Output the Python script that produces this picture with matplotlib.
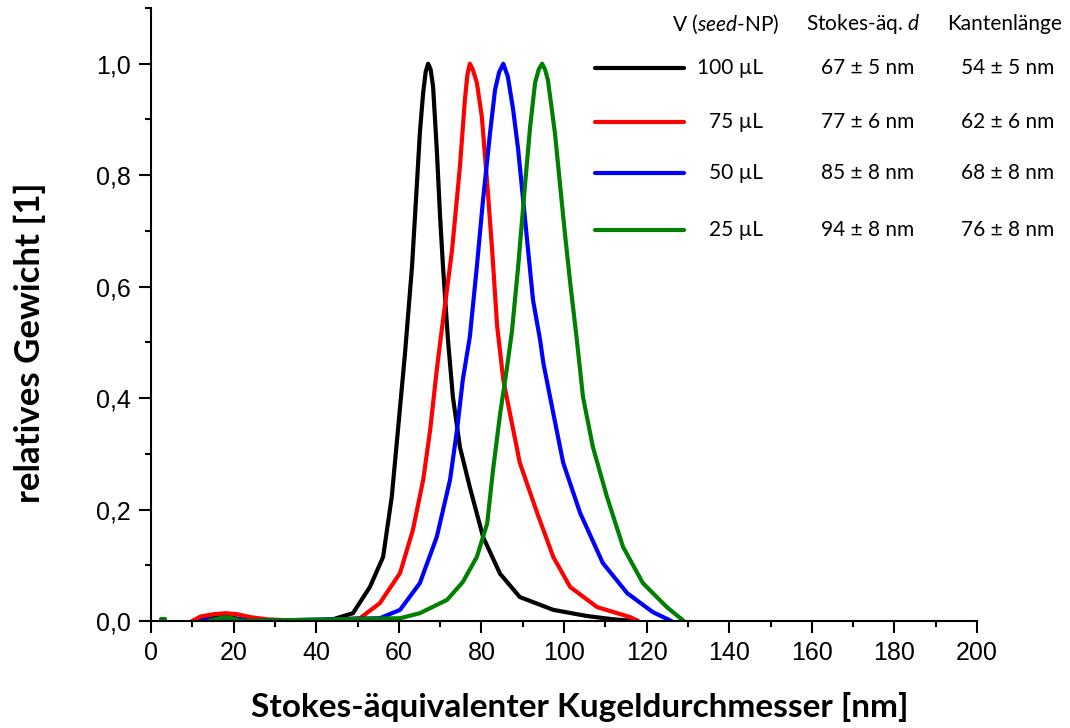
import numpy as np
import matplotlib
matplotlib.use("Agg")
import matplotlib.pyplot as plt
from matplotlib.ticker import MultipleLocator, FixedLocator

plt.rcParams["mathtext.fontset"] = "custom"
plt.rcParams["mathtext.rm"] = "Lato"
plt.rcParams["mathtext.it"] = "Lato:italic"

# Werte (x in nm, y relatives Gewicht)
x_100 = [10, 14, 18, 22, 26, 40, 44, 48.9, 53, 56.2, 58.3, 59.8, 61.5, 63.2, 64.4, 65.1, 65.9,
         66.5, 67.1, 67.7, 68.3, 69.2, 70.0, 70.7, 71.9, 73.1, 74.8, 77.2, 80.4, 84.5, 89.3, 97.4,
         105.5, 112, 117]
y_100 = [0, 0.004, 0.008, 0.003, 0, 0, 0.003, 0.014, 0.061, 0.115, 0.223, 0.343, 0.48, 0.636,
         0.786, 0.876, 0.948, 0.985, 1.0, 0.99, 0.959, 0.846, 0.725, 0.636, 0.505, 0.402, 0.312,
         0.24, 0.151, 0.085, 0.043, 0.020, 0.009, 0.003, 0]

x_75 = [10, 12, 15, 18, 21, 24, 28, 34, 40, 50.6, 55.4, 60.3, 63.4, 65.9, 67.6, 69.2, 70.0, 72.9,
        74.8, 76.0, 76.6, 77.2, 77.9, 78.9, 80.1, 81.4, 82.6, 83.8, 85.3, 86.9, 89.3, 93.5, 97.4,
        101.5, 108, 116, 118]
y_75 = [0, 0.008, 0.012, 0.014, 0.012, 0.007, 0.003, 0.001, 0, 0.005, 0.032, 0.086, 0.163, 0.253,
        0.343, 0.451, 0.499, 0.666, 0.815, 0.935, 0.98, 1.0, 0.99, 0.966, 0.905, 0.786, 0.666,
        0.53, 0.433, 0.373, 0.284, 0.194, 0.115, 0.061, 0.025, 0.007, 0]

x_50 = [12, 15, 18, 21, 24, 55.4, 60.3, 65.1, 69.2, 72.4, 74.1, 75.5, 77.2, 78.9, 80.4, 82.1,
        83.3, 84.3, 85.3, 86.4, 87.7, 88.9, 90.1, 91.3, 92.5, 94.2, 95.0, 97.4, 99.8, 103.9,
        109.4, 115.3, 121.5, 126]
y_50 = [0, 0.003, 0.006, 0.003, 0, 0.005, 0.02, 0.068, 0.151, 0.253, 0.343, 0.433, 0.51, 0.636,
        0.756, 0.876, 0.953, 0.985, 1.0, 0.977, 0.917, 0.846, 0.756, 0.666, 0.576, 0.505, 0.463,
        0.373, 0.284, 0.194, 0.104, 0.05, 0.016, 0]

x_25 = [14, 16, 18, 20, 22, 60.3, 65.1, 71.7, 75.5, 78.9, 81.4, 82.8, 84.5, 86.2, 87.4, 88.9,
        90.6, 91.8, 93.0, 93.9, 94.7, 95.4, 96.1, 97.8, 99.0, 100.2, 101.5, 103.1, 104.6, 107.0,
        110.4, 114.3, 119.1, 124.9, 129]
y_25 = [0, 0.004, 0.007, 0.004, 0, 0.005, 0.014, 0.038, 0.07, 0.115, 0.175, 0.27, 0.37, 0.455,
        0.52, 0.636, 0.786, 0.887, 0.966, 0.99, 1.0, 0.99, 0.971, 0.876, 0.786, 0.697, 0.607,
        0.505, 0.402, 0.312, 0.223, 0.133, 0.068, 0.025, 0]

volumes = ["100 µL", "75 µL", "50 µL", "25 µL"]
stokes_d = ["67 ± 5 nm", "77 ± 6 nm", "85 ± 8 nm", "94 ± 8 nm"]
kanten = ["54 ± 5 nm", "62 ± 6 nm", "68 ± 8 nm", "76 ± 8 nm"]
colors = ["black", "red", "blue", "green"]

x_ticks = [0, 20, 40, 60, 80, 100, 120, 140, 160, 180, 200]
y_ticks = [0.0, 0.2, 0.4, 0.6, 0.8, 1.0]
y_ticklabels = ["0,0", "0,2", "0,4", "0,6", "0,8", "1,0"]

W, H = 1070, 728
fig = plt.figure(figsize=(W / 100, H / 100), dpi=100)
ax = fig.add_axes([151 / W, 1 - 621 / H, (977 - 151) / W, (621 - 8) / H])

series = [(x_100, y_100), (x_75, y_75), (x_50, y_50), (x_25, y_25)]
for (xs, ys), c in zip(series, colors):
    ax.plot(xs, ys, color=c, lw=3.0, solid_capstyle="round", solid_joinstyle="round")
# kleiner gruener Punkt bei x ~ 3
ax.plot([2.5, 3.5], [0.004, 0.004], color="green", lw=3.0, solid_capstyle="round")

ax.set_xlim(0, 200)
ax.set_ylim(0, 1.1)
ax.spines["top"].set_visible(False)
ax.spines["right"].set_visible(False)
for s in ("left", "bottom"):
    ax.spines[s].set_linewidth(1.5)
    ax.spines[s].set_zorder(3)

ax.set_xticks(x_ticks)
ax.set_xticklabels([str(v) for v in x_ticks])
ax.set_yticks(y_ticks)
ax.set_yticklabels(y_ticklabels)
ax.xaxis.set_minor_locator(MultipleLocator(10))
ax.yaxis.set_minor_locator(FixedLocator([0.1, 0.3, 0.5, 0.7, 0.9, 1.1]))
ax.tick_params(which="major", direction="out", length=8.5, width=1.5, pad=6)
ax.tick_params(which="minor", direction="out", length=4, width=1.5)
for lab in ax.get_xticklabels() + ax.get_yticklabels():
    lab.set_fontfamily("Liberation Sans")
    lab.set_fontsize(18)

fig.text(580 / W, 1 - 707 / H, "Stokes-äquivalenter Kugeldurchmesser [nm]",
         family="Lato", weight="bold", fontsize=24, ha="center", va="center")
fig.text(30 / W, 1 - 343 / H, "relatives Gewicht [1]",
         family="Lato", weight="bold", fontsize=25, ha="center", va="center", rotation=90)

# Legende als Tabelle
fs = 15
fig.text(726 / W, 1 - 24 / H, r"V ($\mathit{seed}$-NP)", family="Lato", fontsize=fs,
         ha="center", va="center")
fig.text(863 / W, 1 - 24 / H, r"Stokes-äq. $\mathit{d}$", family="Lato", fontsize=fs,
         ha="center", va="center")
fig.text(1005 / W, 1 - 24 / H, "Kantenlänge", family="Lato", fontsize=fs,
         ha="center", va="center")
row_y = [68, 122, 173, 230]
for yy, c, v, d, k in zip(row_y, colors, volumes, stokes_d, kanten):
    fy = 1 - yy / H
    fig.add_artist(plt.Line2D([595 / W, 684 / W], [fy, fy], color=c, lw=3.0,
                              solid_capstyle="round"))
    fig.text(763 / W, fy, v, family="Lato", fontsize=fs, ha="right", va="center")
    fig.text(868 / W, fy, d, family="Lato", fontsize=fs, ha="center", va="center")
    fig.text(1008 / W, fy, k, family="Lato", fontsize=fs, ha="center", va="center")

fig.savefig("out.png", dpi=100)
